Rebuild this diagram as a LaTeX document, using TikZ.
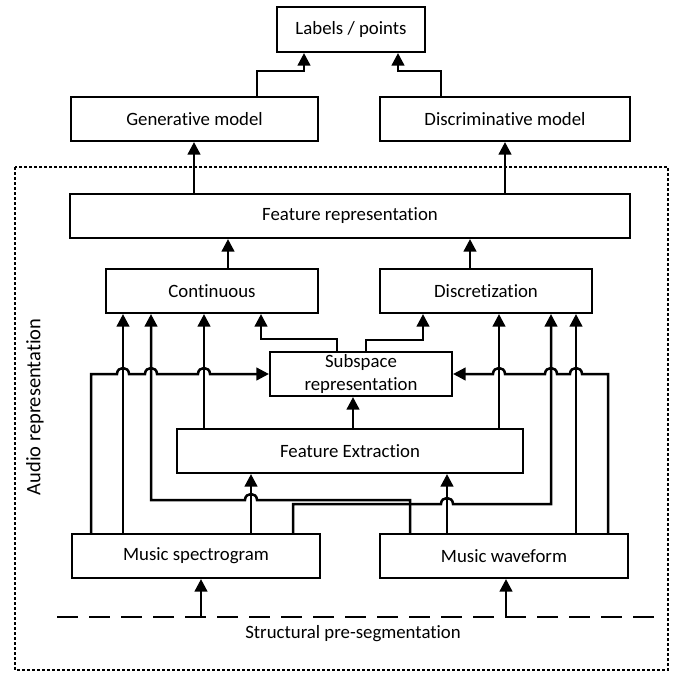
\documentclass[tikz,border=0pt]{standalone}
\usepackage{fontspec}
\setmainfont{Carlito}[RawFeature={-liga;-clig;-calt;-dlig}]
\usetikzlibrary{arrows.meta}
\begin{document}
\begin{tikzpicture}[x=1pt,y=-1pt,
  box/.style={draw, line width=2.1pt, inner sep=0pt, font=\fontsize{18.8}{22.5}\selectfont, align=center},
  arr/.style={line width=2.5pt, -{Triangle[width=12.5pt,length=12.5pt]}},
  lbl/.style={font=\fontsize{18.8}{22.5}\selectfont}]
\useasboundingbox (0,0) rectangle (681,675);

% outer dashed frame
\draw[line width=2pt, dash pattern=on 3pt off 2pt] (15,167) rectangle (668,670);

% boxes
\node[box, minimum width=148pt, minimum height=45pt] (lab) at (351,29.5) {Labels / points};
\node[box, minimum width=247pt, minimum height=44pt] (gen) at (194.5,119) {Generative model};
\node[box, minimum width=250pt, minimum height=44pt] (dis) at (505,119) {Discriminative model};
\node[box, minimum width=560pt, minimum height=44pt] (fr) at (350,216) {Feature representation};
\node[box, minimum width=212pt, minimum height=44pt] (con) at (212,291) {Continuous};
\node[box, minimum width=212pt, minimum height=44pt] (dsc) at (486,291) {Discretization};
\node[box, minimum width=182pt, minimum height=44pt] (sub) at (361,374) {Subspace\\representation};
\node[box, minimum width=346pt, minimum height=44pt] (fe) at (350,451) {Feature Extraction};
\node[box, minimum width=248pt, minimum height=44pt] (spec) at (196,556) {Music spectrogram};
\node[box, minimum width=248pt, minimum height=44pt] (wave) at (504,556) {Music waveform};

% segmentation line and labels
\coordinate (segL) at (57,617);
\coordinate (segR) at (656,617);
\coordinate (s1) at (201,617);
\coordinate (s2) at (506,617);
\draw[line width=2.8pt, dash pattern=on 21pt off 11pt] (segL) -- (segR);
\node[lbl] (seg) at (353,634) {Structural pre-segmentation};
\node[lbl, rotate=90, font=\fontsize{20.5}{24}\selectfont] (audio) at (35,407) {Audio representation};

% top connectors
\draw[arr] (gen.north -| 257,0) |- (304,71) -- (lab.south -| 304,0);
\draw[arr] (dis.north -| 441,0) |- (398,71) -- (lab.south -| 398,0);
\draw[arr] (fr.north -| 194,0) -- (gen.south -| 194,0);
\draw[arr] (fr.north -| 505,0) -- (dis.south -| 505,0);
\draw[arr] (con.north -| 228,0) -- (fr.south -| 228,0);
\draw[arr] (dsc.north -| 470,0) -- (fr.south -| 470,0);

% into Continuous
\draw[arr] (spec.north -| 123,0) -- (con.south -| 123,0);
\draw[arr] (fe.north -| 204,0) -- (con.south -| 204,0);
\draw[arr] (sub.north -| 337,0) |- (261,339) -- (con.south -| 261,0);
\draw[arr] (wave.north -| 410,0) -- (410,500) -- (257,500)
  .. controls (257,492) and (245,492) .. (245,500) -- (151,500) -- (con.south -| 151,0);

% into Discretization
\draw[arr] (sub.north -| 366,0) |- (423,340) -- (dsc.south -| 423,0);
\draw[arr] (fe.north -| 499,0) -- (dsc.south -| 499,0);
\draw[arr] (wave.north -| 576,0) -- (dsc.south -| 576,0);
\draw[arr] (spec.north -| 293,0) -- (293,504) -- (441,504)
  .. controls (441,496) and (453,496) .. (453,504) -- (551,504) -- (dsc.south -| 551,0);

% into Subspace
\draw[arr] (fe.north -| 353,0) -- (sub.south -| 353,0);
\draw[arr] (spec.north -| 91,0) -- (91,374) -- (117,374)
  .. controls (117,366) and (129,366) .. (129,374) -- (145,374)
  .. controls (145,366) and (157,366) .. (157,374) -- (198,374)
  .. controls (198,366) and (210,366) .. (210,374) -- (sub.west);
\draw[arr] (wave.north -| 608,0) -- (608,374) -- (582,374)
  .. controls (582,366) and (570,366) .. (570,374) -- (557,374)
  .. controls (557,366) and (545,366) .. (545,374) -- (505,374)
  .. controls (505,366) and (493,366) .. (493,374) -- (sub.east);

% into Feature Extraction
\draw[arr] (spec.north -| 251,0) -- (fe.south -| 251,0);
\draw[arr] (wave.north -| 447,0) -- (fe.south -| 447,0);

% from segmentation
\draw[arr] (s1) -- (spec.south -| 201,0);
\draw[arr] (s2) -- (wave.south -| 506,0);
\end{tikzpicture}
\end{document}
